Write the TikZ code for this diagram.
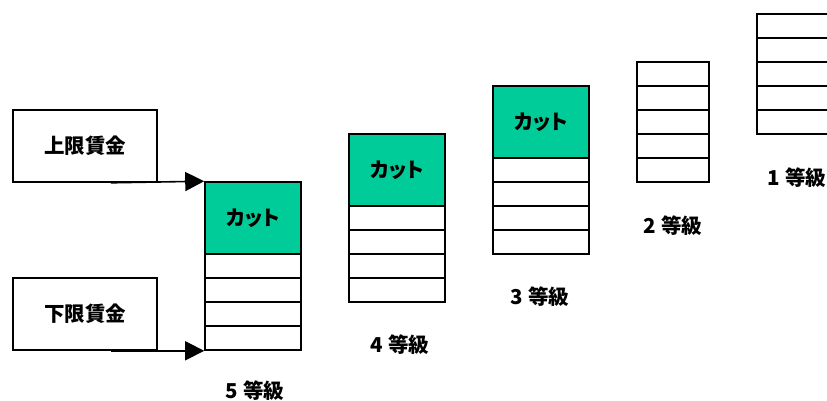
\documentclass[tikz,border=0pt]{standalone}
\usepackage{fontspec}
\setmainfont{Noto Sans CJK JP}[RawFeature=+palt]
\usetikzlibrary{arrows.meta}
\definecolor{cutgreen}{HTML}{00CC99}
\newcommand\jpbold{\fontsize{20.5}{24}\selectfont\bfseries}
\tikzset{wage/.style={draw,line width=1.6pt,inner sep=0pt,minimum width=144pt,minimum height=72pt,font=\jpbold}, cut/.style={draw,fill=cutgreen,line width=1.6pt,inner sep=0pt,minimum width=96pt,minimum height=72pt,font=\jpbold}, row/.style={draw,line width=1.6pt,inner sep=0pt,minimum width=96pt,minimum height=24pt}, grade/.style={font=\jpbold,inner sep=0pt}, arr/.style={-{Triangle[length=19pt,width=19pt]},line width=1.6pt}}

\begin{document}
\begin{tikzpicture}[x=1pt,y=-1pt]
\useasboundingbox (0,0) rectangle (827,400);
\clip (0,0) rectangle (827,400);
\node[wage] (hi) at (85,146){上限賃金};
\node[wage] (lo) at (85,314){下限賃金};
% 5 等級
\node[cut] (c5) at (253,218){カット};
\foreach \i/\y in {a/266,b/290,c/314,d/338} \node[row] (r5\i) at (253,\y){};
% 4 等級
\node[cut] (c4) at (397,170){カット};
\foreach \i/\y in {a/218,b/242,c/266,d/290} \node[row] (r4\i) at (397,\y){};
% 3 等級
\node[cut] (c3) at (541,122){カット};
\foreach \i/\y in {a/170,b/194,c/218,d/242} \node[row] (r3\i) at (541,\y){};
% 2 等級
\foreach \i/\y in {a/74,b/98,c/122,d/146,e/170} \node[row,minimum width=72pt] (r2\i) at (673,\y){};
% 1 等級
\foreach \i/\y in {a/26,b/50,c/74,d/98,e/122} \node[row] (r1\i) at (805,\y){};
\node[grade] (g5) at (255,391){5 等級};
\node[grade] (g4) at (400,345){4 等級};
\node[grade] (g3) at (540,297){3 等級};
\node[grade] (g2) at (673,226){2 等級};
\node[grade] (g1) at (797,178){1 等級};
\draw[arr] ([xshift=-47pt]hi.south east)--(c5.north west);
\draw[arr] ([xshift=-47pt]lo.south east)--(r5d.south west);
\end{tikzpicture}
\end{document}
